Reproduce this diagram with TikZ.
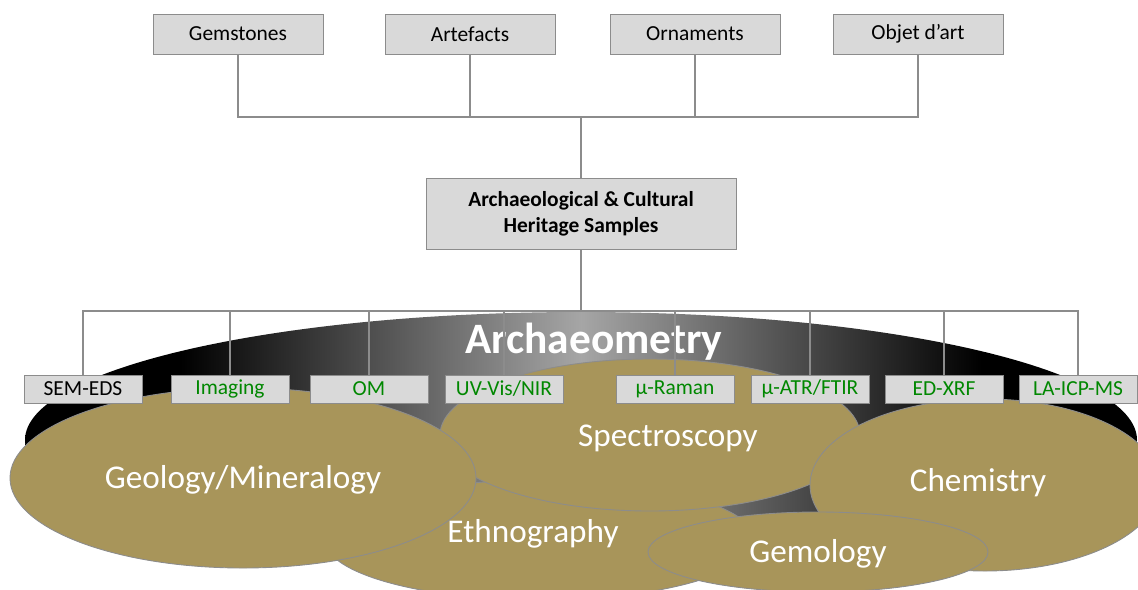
\documentclass[tikz,border=0pt]{standalone}
\usepackage{fontspec}
\setmainfont{Carlito}
\usepackage{tikz}
\usepackage{xcolor}
\usetikzlibrary{shapes.geometric, arrows.meta, positioning, calc}
\definecolor{ochre}{RGB}{168,149,90}
\definecolor{boxgray}{RGB}{217,217,217}
\definecolor{wiregray}{RGB}{140,140,140}
\definecolor{labelgreen}{RGB}{0,135,0}
\pgfdeclarehorizontalshading{disc}{100bp}{color(0bp)=(black); color(32bp)=(black); color(50bp)=(gray!70); color(68bp)=(black); color(100bp)=(black)}

\begin{document}
\begin{tikzpicture}[
    x=0.02cm, y=-0.02cm,
    source/.style={rectangle, draw=wiregray, fill=boxgray, minimum width=3.4cm, minimum height=0.8cm, font=\fontsize{12.2}{14}\selectfont},
    sample/.style={rectangle, draw=wiregray, fill=boxgray, minimum width=6.2cm, minimum height=1.42cm, align=center, font=\fontsize{12.2}{15}\selectfont\bfseries},
    method/.style={rectangle, draw=wiregray, fill=boxgray, minimum width=2.36cm, minimum height=0.56cm, inner sep=0pt, font=\fontsize{12.2}{14}\selectfont, text=labelgreen},
    field/.style={draw=wiregray, line width=0.5pt, fill=ochre},
    fieldtxt/.style={text=white, font=\fontsize{18.9}{22}\selectfont},
    wire/.style={draw=wiregray, line width=0.7pt}
]
\useasboundingbox (0,0) rectangle (1138,589);
\clip (0,0) rectangle (1138,589);

% archaeometry disc
\shade[shading=disc] (581,440) ellipse [x radius=556, y radius=128];
\node[text=white, font=\fontsize{24.7}{28}\selectfont\bfseries] (arch) at (594,342) {Archaeometry};

% disciplines
\draw[field] (540,540) ellipse [x radius=215, y radius=60];
\draw[field] (650,435) ellipse [x radius=210, y radius=76];
\draw[field] (243,478) ellipse [x radius=233, y radius=90];
\draw[field] (985,485) ellipse [x radius=175, y radius=86];
\draw[field] (818,552) ellipse [x radius=170, y radius=40];
\node[fieldtxt] (geo) at (243,480) {Geology/Mineralogy};
\node[fieldtxt] (spec) at (668,438) {Spectroscopy};
\node[fieldtxt] (ethno) at (533,534) {Ethnography};
\node[fieldtxt] (chem) at (978,483) {Chemistry};
\node[fieldtxt] (gemo) at (818,554) {Gemology};

% samples
\node[source] (gem) at (238,34) {Gemstones};
\node[source] (art) at (470,34) {Artefacts};
\node[source] (orn) at (695,34) {Ornaments};
\node[source] (obj) at (918,34) {Objet d’art};
\node[sample] (heritage) at (581,214) {Archaeological \& Cultural\\Heritage Samples};

\coordinate (bus) at (581,117);
\coordinate (rail) at (581,311);
\draw[wire] (gem.south) |- (bus) -| (obj.south);
\draw[wire] (art.south) -- (art.south |- bus);
\draw[wire] (orn.south) -- (orn.south |- bus);
\draw[wire] (bus) -- (heritage.north);
\draw[wire] (heritage.south) -- (rail);

% techniques
\node[method, text=black] (sem) at (83,389) {SEM-EDS};
\node[method] (img) at (230,389) {Imaging};
\node[method] (om) at (369,389) {OM};
\node[method] (uv) at (504,389) {UV-Vis/NIR};
\node[method] (raman) at (675,389) {µ-Raman};
\node[method] (atr) at (810,389) {µ-ATR/FTIR};
\node[method] (xrf) at (944,389) {ED-XRF};
\node[method] (icp) at (1078,389) {LA-ICP-MS};

\foreach \m in {sem,img,om,uv,raman,atr,xrf,icp}
    \draw[wire] (rail) -| (\m.north);

\end{tikzpicture}
\end{document}
